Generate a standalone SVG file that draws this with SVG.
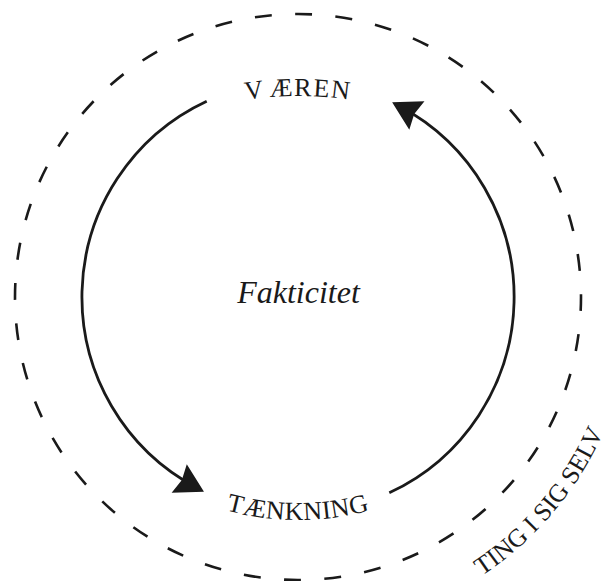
<svg xmlns="http://www.w3.org/2000/svg" width="615" height="581" viewBox="0 0 615 581">
  <style>
    .lbl { font-family: "Liberation Serif", "DejaVu Serif", serif; fill: #1a1a1a; }
    .caps { font-size: 26px; }
    .arc { fill: none; stroke: #1a1a1a; stroke-width: 2.8; }
    .dash { fill: none; stroke: #1a1a1a; stroke-width: 2.6; stroke-dasharray: 17 23.4; stroke-dashoffset: 3; }
  </style>
  <defs>
    <marker id="head" markerUnits="userSpaceOnUse" markerWidth="40" markerHeight="40" refX="0" refY="0" orient="auto" overflow="visible">
      <path d="M8,0 L-20,-16.2 L-17,0 L-20,16.2 Z" fill="#1a1a1a"/>
    </marker>
    <path id="pTop" d="M-52,446 A350,350 0 0 1 648,446"/>
    <path id="pBottom" d="M28,250 A270,270 0 0 0 568,250"/>
    <path id="pOuter" d="M298,631 A334,334 0 0 0 632,297"/>
  </defs>

  <g id="outer-boundary">
    <circle class="dash" cx="298" cy="297" r="283"/>
    <text class="lbl" font-size="25.5"><textPath href="#pOuter" startOffset="290" text-anchor="middle">TING I SIG SELV</textPath></text>
  </g>

  <g id="connectors">
    <path class="arc" d="M206.7,101.2 A216,216 0 0 0 196.9,487.9" marker-end="url(#head)"/>
    <path class="arc" d="M389.3,492.8 A216,216 0 0 0 399.2,106.1" marker-end="url(#head)"/>
  </g>

  <g id="node-vaeren">
    <text class="lbl caps" letter-spacing="1.5"><textPath href="#pTop" startOffset="50%" text-anchor="middle">V<tspan dx="4">ÆREN</tspan></textPath></text>
  </g>

  <g id="node-taenkning">
    <text class="lbl caps" letter-spacing="0.5"><textPath href="#pBottom" startOffset="50%" text-anchor="middle">TÆNKNING</textPath></text>
  </g>

  <g id="node-fakticitet">
    <text class="lbl" x="298.5" y="303" font-size="32" font-style="italic" text-anchor="middle">Fakticitet</text>
  </g>
</svg>
